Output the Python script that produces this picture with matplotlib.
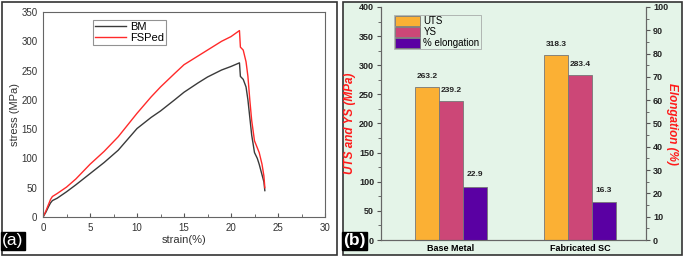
import matplotlib.pyplot as plt
from matplotlib.patches import Rectangle
from matplotlib.ticker import MultipleLocator
import numpy as np

plt.rcParams['font.family'] = ['Liberation Sans', 'DejaVu Sans']

# (a) stress-strain curves
bm_strain = [0, 0.3, 0.6, 0.8, 1.0, 1.5, 2.5, 3.5, 5, 6.5, 8, 10, 11.5, 12.5, 14, 15, 16.5, 17.5, 19, 20, 20.9,
             21.0, 21.3, 21.6, 21.8, 22.0, 22.2, 22.5, 22.8, 23.0, 23.3, 23.5, 23.6]
bm_stress = [0, 8, 18, 24, 28, 32, 43, 55, 74, 93, 114, 151, 170, 181, 200, 213, 229, 239, 251, 257, 263.2,
             240, 235, 222, 200, 170, 140, 110, 100, 90, 72, 60, 45]
fsp_strain = [0, 0.3, 0.6, 0.8, 1.0, 1.5, 2.5, 3.5, 5, 6.5, 8, 10, 11.5, 12.5, 14, 15, 16.5, 17.5, 19, 20, 20.9,
              21.0, 21.3, 21.6, 21.8, 22.0, 22.2, 22.5, 22.8, 23.0, 23.3, 23.5, 23.6]
fsp_stress = [0, 10, 22, 30, 35, 40, 51, 65, 90, 112, 137, 177, 205, 222, 245, 260, 275, 285, 300, 308, 318.3,
              290, 285, 265, 240, 200, 165, 130, 118, 110, 90, 70, 50]

# (b) bar chart
categories = ['Base Metal', 'Fabricated SC']
uts = [263.2, 318.3]
ys = [239.2, 283.4]
elong = [22.9, 16.3]

fig = plt.figure(figsize=(6.85, 2.58), dpi=100)
fig.patch.set_facecolor('white')

# panel frames
fig.patches.append(Rectangle((2 / 685, 3 / 258), 335 / 685, 253 / 258, transform=fig.transFigure,
                             facecolor='white', edgecolor='#333333', lw=1.2, zorder=-5))
fig.patches.append(Rectangle((343 / 685, 3 / 258), 339 / 685, 253 / 258, transform=fig.transFigure,
                             facecolor='#e4f4e8', edgecolor='#333333', lw=1.2, zorder=-5))

# ---- panel (a)
ax1 = fig.add_axes([43 / 685, 41 / 258, 282 / 685, 205 / 258])
ax1.plot(bm_strain, bm_stress, color='#3a3a3a', lw=1.0, label='BM')
ax1.plot(fsp_strain, fsp_stress, color='#ff2a2a', lw=1.0, label='FSPed')
ax1.set_xlim(0, 30)
ax1.set_ylim(0, 350)
ax1.xaxis.set_major_locator(MultipleLocator(5))
ax1.xaxis.set_minor_locator(MultipleLocator(2.5))
ax1.yaxis.set_major_locator(MultipleLocator(50))
ax1.tick_params(axis='both', which='both', direction='in', labelsize=7, colors='#555555', labelcolor='#333333')
ax1.tick_params(axis='x', which='major', length=3, pad=4)
ax1.tick_params(axis='x', which='minor', length=2)
ax1.tick_params(axis='y', which='major', length=0, pad=4)
for s in ax1.spines.values():
    s.set_color('#666666')
    s.set_linewidth(0.8)
ax1.set_xlabel('strain(%)', fontsize=8, color='#333333', labelpad=2)
ax1.set_ylabel('stress (MPa)', fontsize=8, color='#333333', labelpad=1)
leg1 = ax1.legend(loc='upper left', bbox_to_anchor=(0.177, 0.96), fontsize=8, frameon=True, fancybox=False,
                  handlelength=2.8, handletextpad=0.4, borderpad=0.15, labelspacing=0.1, borderaxespad=0)
leg1.get_frame().set_edgecolor('#777777')
leg1.get_frame().set_linewidth(0.8)

# ---- panel (b)
ax2 = fig.add_axes([381 / 685, 18 / 258, 265 / 685, 233 / 258])
ax2.set_facecolor('none')
x = np.arange(len(categories))
w = 0.185
b1 = ax2.bar(x - w, uts, w, color='#fbb034', edgecolor='#777777', lw=0.6, label='UTS')
b2 = ax2.bar(x, ys, w, color='#cc4777', edgecolor='#777777', lw=0.6, label='YS')
ax3 = ax2.twinx()
b3 = ax3.bar(x + w, elong, w, color='#5a00a3', edgecolor='#777777', lw=0.6, label='% elongation')
ax2.set_xlim(-0.54, 1.51)
ax2.set_ylim(0, 400)
ax3.set_ylim(0, 100)
ax2.set_xticks(x)
ax2.set_xticklabels(categories, fontsize=6.5, fontweight='bold')
ax2.tick_params(axis='x', length=0, pad=3)
ax2.yaxis.set_major_locator(MultipleLocator(50))
ax2.yaxis.set_minor_locator(MultipleLocator(25))
ax3.yaxis.set_major_locator(MultipleLocator(10))
ax3.yaxis.set_minor_locator(MultipleLocator(5))
for a in (ax2, ax3):
    a.tick_params(axis='y', which='major', length=3, labelsize=6.5, colors='#555555', labelcolor='#222222', pad=2)
    a.tick_params(axis='y', which='minor', length=2, colors='#555555')
    for lab in a.get_yticklabels():
        lab.set_fontweight('bold')
    for s in a.spines.values():
        s.set_color('#666666')
        s.set_linewidth(0.8)
    a.spines['top'].set_visible(False)
ax2.set_ylabel('UTS and YS (MPa)', fontsize=8.5, color='#ff1a1a', fontstyle='italic', fontweight='bold',
               labelpad=2)
ax3.set_ylabel('Elongation (%)', fontsize=8.5, color='#ff1a1a', fontstyle='italic', fontweight='bold',
               rotation=-90, labelpad=7)

for xi, v in zip(x - w, uts):
    ax2.text(xi, v + 12, f'{v:.1f}', ha='center', va='bottom', fontsize=6, fontweight='bold', color='#222222')
for xi, v in zip(x, ys):
    ax2.text(xi, v + 12, f'{v:.1f}', ha='center', va='bottom', fontsize=6, fontweight='bold', color='#222222')
for xi, v in zip(x + w, elong):
    ax3.text(xi, v + 3.5, f'{v:.1f}', ha='center', va='bottom', fontsize=6, fontweight='bold', color='#222222')

leg2 = ax3.legend([b1, b2, b3], ['UTS', 'YS', '% elongation'], loc='upper left', bbox_to_anchor=(0.05, 0.966),
                  fontsize=7, frameon=True, fancybox=False, handlelength=2.5, handleheight=1.25,
                  handletextpad=0.4, borderpad=0.1, labelspacing=0.05, borderaxespad=0)
leg2.get_frame().set_edgecolor('#999999')
leg2.get_frame().set_facecolor('#e4f4e8')
leg2.get_frame().set_linewidth(0.6)

# panel tags
fig.text(13 / 685, 1 - 241 / 258, '(a)', fontsize=12.5, color='white', ha='center', va='center',
         bbox=dict(boxstyle='square,pad=0.1', facecolor='black', edgecolor='black'))
fig.text(354.5 / 685, 1 - 241 / 258, '(b)', fontsize=12.5, fontweight='bold', color='white', ha='center',
         va='center', bbox=dict(boxstyle='square,pad=0.1', facecolor='black', edgecolor='black'))

fig.savefig('out.png', dpi=100)
